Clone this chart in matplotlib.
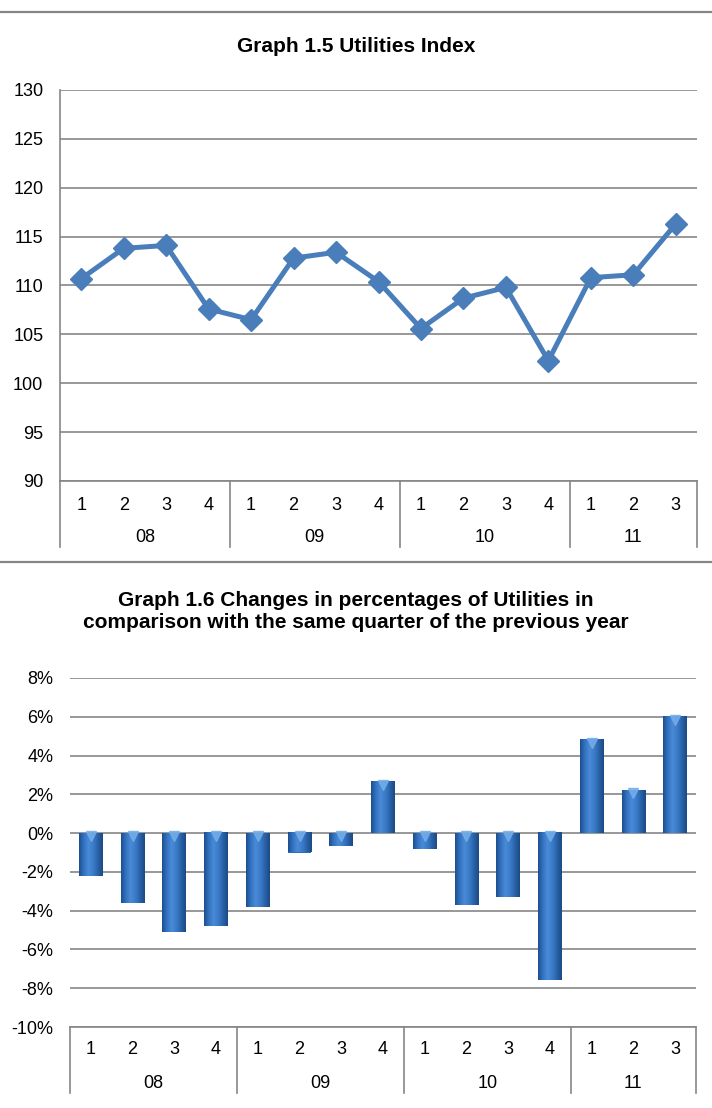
import numpy as np
import matplotlib
matplotlib.use('Agg')
import matplotlib.pyplot as plt
import matplotlib.transforms as mtransforms
from matplotlib.colors import LinearSegmentedColormap

plt.rcParams['font.family'] = ['Liberation Sans', 'DejaVu Sans']

# Data
quarters = ['1', '2', '3', '4', '1', '2', '3', '4', '1', '2', '3', '4', '1', '2', '3']
years = ['08', '09', '10', '11']
year_counts = [4, 4, 4, 3]
index_values = [110.7, 113.8, 114.1, 107.6, 106.5, 112.8, 113.4, 110.4,
                105.6, 108.7, 109.8, 102.3, 110.8, 111.1, 116.3]
change_pct = [-2.2, -3.6, -5.1, -4.8, -3.8, -1.0, -0.65, 2.65,
              -0.8, -3.7, -3.3, -7.6, 4.8, 2.2, 6.0]

W, H = 712, 1108
GRID = '#868686'
LINE_BLUE = '#4a7ebb'
FS = 13

fig = plt.figure(figsize=(W / 100, H / 100), dpi=100)


def px_axes(left, top, right, bottom):
    """Add axes from pixel box (origin top-left)."""
    return fig.add_axes([left / W, 1 - bottom / H, (right - left) / W, (bottom - top) / H])


def category_axis(ax, height_px, q_off, y_off, div_off):
    """Two-level category axis: quarters then years, with divider lines."""
    n = len(quarters)
    ax.set_xticks(np.arange(n))
    ax.set_xticklabels([])
    ax.tick_params(axis='x', length=0)
    trans = mtransforms.blended_transform_factory(ax.transData, ax.transAxes)
    for i, q in enumerate(quarters):
        ax.text(i, -q_off / height_px, q, transform=trans, ha='center', va='center',
                fontsize=FS, clip_on=False)
    start = 0
    bounds = [-0.5]
    for yr, cnt in zip(years, year_counts):
        mid = start + (cnt - 1) / 2
        ax.text(mid, -y_off / height_px, yr, transform=trans, ha='center', va='center',
                fontsize=FS, clip_on=False)
        start += cnt
        bounds.append(start - 0.5)
    for b in bounds:
        ax.plot([b, b], [0, -div_off / height_px], transform=trans, color=GRID,
                lw=1.2, clip_on=False)


# Separators
fig.add_artist(plt.Line2D([0, 1], [1 - 12 / H, 1 - 12 / H], color=GRID, lw=1.6))
fig.add_artist(plt.Line2D([0, 1], [1 - 562 / H, 1 - 562 / H], color=GRID, lw=1.6))

# Graph 1.5 - line chart
ax1 = px_axes(60, 90, 697, 481)
x = np.arange(len(index_values))
ax1.plot(x, index_values, color=LINE_BLUE, lw=3.6, marker='D', markersize=11,
         markerfacecolor=LINE_BLUE, markeredgecolor=LINE_BLUE, zorder=3)
ax1.set_xlim(-0.5, len(index_values) - 0.5)
ax1.set_ylim(90, 130)
ax1.set_yticks(np.arange(90, 131, 5))
ax1.tick_params(axis='y', length=0, pad=12, labelsize=FS)
ax1.grid(axis='y', color=GRID, lw=1.2)
ax1.set_axisbelow(True)
for s in ['top', 'right']:
    ax1.spines[s].set_visible(False)
for s in ['left', 'bottom']:
    ax1.spines[s].set_color(GRID)
    ax1.spines[s].set_linewidth(1.2)
category_axis(ax1, 391, 24, 56, 66)
fig.text(0.5, 1 - 46 / H, 'Graph 1.5 Utilities Index', ha='center', va='center',
         fontsize=15, fontweight='bold')

# Graph 1.6 - bar chart
ax2 = px_axes(70, 678, 696, 1027)
n = len(change_pct)
xb = np.arange(n)
bw = 0.57
bars = ax2.bar(xb, change_pct, width=bw, color='#2f6db5', zorder=2)
cmap = LinearSegmentedColormap.from_list(
    'bar3d', ['#1d4f8e', '#3273c2', '#4a8ad6', '#3a7cc9', '#2a62a8', '#1b4a85'])
grad = np.linspace(0, 1, 64).reshape(1, -1)
for b in bars:
    x0, y0 = b.get_x(), b.get_y()
    ax2.imshow(grad, cmap=cmap, aspect='auto', zorder=2.5,
               extent=[x0, x0 + b.get_width(), y0, y0 + b.get_height()])
tri = mtransforms.offset_copy(ax2.transData, fig=fig, y=-3, units='dots')
ax2.plot(xb, [max(v, 0) for v in change_pct], linestyle='none', marker='v',
         markersize=7, color='#74aeea', alpha=0.85, transform=tri, zorder=3)
ax2.set_xlim(-0.5, n - 0.5)
ax2.set_ylim(-10, 8)
ax2.set_yticks(np.arange(-10, 9, 2))
ax2.set_yticklabels([f'{v}%' for v in range(-10, 9, 2)])
ax2.tick_params(axis='y', length=0, pad=12, labelsize=FS)
ax2.grid(axis='y', color=GRID, lw=1.2)
ax2.set_axisbelow(True)
for s in ['top', 'right', 'left']:
    ax2.spines[s].set_visible(False)
ax2.spines['bottom'].set_color(GRID)
ax2.spines['bottom'].set_linewidth(1.2)
category_axis(ax2, 349, 22, 56, 66)
fig.text(0.5, 1 - 600 / H, 'Graph 1.6 Changes in percentages of Utilities in',
         ha='center', va='center', fontsize=15, fontweight='bold')
fig.text(0.5, 1 - 622 / H, 'comparison with the same quarter of the previous year',
         ha='center', va='center', fontsize=15, fontweight='bold')

fig.savefig('out.png', dpi=100)
